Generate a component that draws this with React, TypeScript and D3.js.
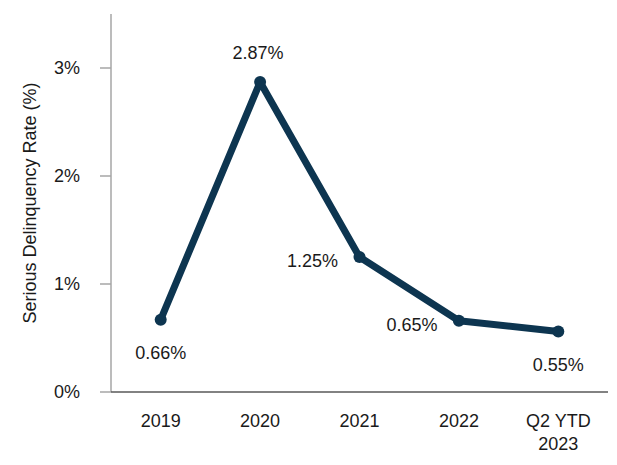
import * as d3 from 'd3';
import React from 'react';

const categories = ['2019', '2020', '2021', '2022', 'Q2 YTD\n2023'];
const rates = [0.67, 2.87, 1.25, 0.66, 0.56];
const rateLabels = ['0.66%', '2.87%', '1.25%', '0.65%', '0.55%'];
const labelSide = ['below', 'above', 'left', 'left', 'below'];
const yTicks = [0, 1, 2, 3];

const FONT = 'Arial, "Liberation Sans", sans-serif';
const NAVY = '#0D3550';

export default function App() {
  const width = 617;
  const height = 465;
  const left = 111;
  const right = 608;
  const bottom = 392;

  const x = d3.scalePoint<string>().domain(categories).range([left, right]).padding(0.5);
  const y = d3.scaleLinear().domain([0, 3.5]).range([bottom, bottom - 3.5 * 108]);

  const line = d3
    .line<number>()
    .x((_, i) => x(categories[i]) as number)
    .y(d => y(d));

  const labelPos = (i: number) => {
    const cx = x(categories[i]) as number;
    const cy = y(rates[i]);
    if (labelSide[i] === 'above') return { lx: cx - 2, ly: cy - 23 };
    if (labelSide[i] === 'left') return { lx: cx - 47, ly: cy + 10 };
    return { lx: cx, ly: cy + 39 };
  };

  return (
    <svg
      width={width}
      height={height}
      style={{ position: 'absolute', left: 0, top: 0, background: '#fff' }}
      fontFamily={FONT}
    >
      {/* y axis */}
      <line x1={left} x2={left} y1={y(3.5)} y2={bottom} stroke="#a6a6a6" strokeWidth={1.5} />
      {yTicks.map(t => (
        <g key={t}>
          <line x1={left - 11} x2={left} y1={y(t)} y2={y(t)} stroke="#a6a6a6" strokeWidth={1.5} />
          <text x={80} y={y(t)} dy="0.35em" textAnchor="end" fontSize={18} fill="#1a1a1a">
            {t}%
          </text>
        </g>
      ))}
      <text
        transform={`translate(36,${(y(3.5) + bottom) / 2}) rotate(-90)`}
        textAnchor="middle"
        fontSize={18}
        fill="#1a1a1a"
      >
        Serious Delinquency Rate (%)
      </text>

      {/* x axis */}
      <line x1={left} x2={right} y1={bottom} y2={bottom} stroke="#595959" strokeWidth={1.5} />
      {categories.map(c => (
        <text key={c} x={x(c)} y={427} textAnchor="middle" fontSize={18} fill="#1a1a1a">
          {c.split('\n').map((part, j) => (
            <tspan key={j} x={x(c)} dy={j === 0 ? 0 : 23}>
              {part}
            </tspan>
          ))}
        </text>
      ))}

      {/* series */}
      <path d={line(rates) ?? ''} fill="none" stroke={NAVY} strokeWidth={7} strokeLinejoin="round" />
      {rates.map((r, i) => (
        <circle key={i} cx={x(categories[i])} cy={y(r)} r={6} fill={NAVY} />
      ))}
      {rateLabels.map((l, i) => {
        const { lx, ly } = labelPos(i);
        return (
          <text key={l} x={lx} y={ly} textAnchor="middle" fontSize={18} fill="#1a1a1a">
            {l}
          </text>
        );
      })}
    </svg>
  );
}
